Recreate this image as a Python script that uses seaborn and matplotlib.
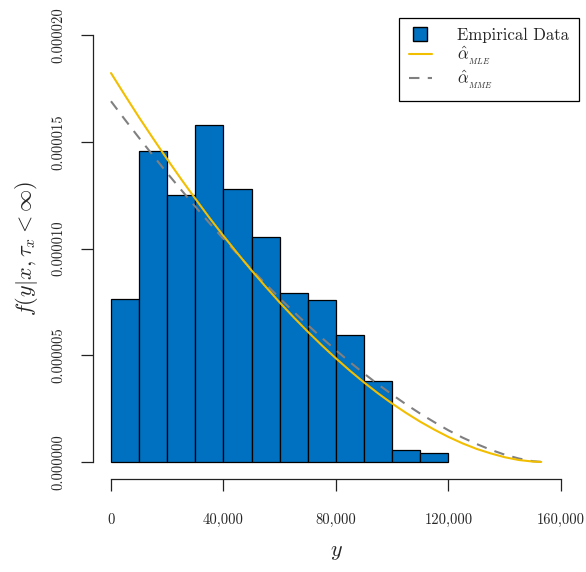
import numpy as np
import pandas as pd
import matplotlib
matplotlib.use("Agg")
import matplotlib.pyplot as plt
from matplotlib.lines import Line2D
import seaborn as sns

# Histogram bins (width 10,000) and their density heights
bin_edges = [0, 10000, 20000, 30000, 40000, 50000, 60000, 70000,
             80000, 90000, 100000, 110000, 120000]
density = [7.63e-6, 14.57e-6, 12.51e-6, 15.78e-6, 12.79e-6, 10.55e-6,
           7.90e-6, 7.57e-6, 5.95e-6, 3.78e-6, 0.54e-6, 0.40e-6]

# Fitted densities (values in units of 1e-6)
curve_y = [0, 5000, 10000, 15000, 20000, 25000, 30000, 35000, 40000,
           45000, 50000, 55000, 60000, 65000, 70000, 75000, 80000, 85000,
           90000, 95000, 100000, 105000, 110000, 115000, 120000, 125000,
           130000, 135000, 140000, 145000, 150000, 153000]
mle_f = [18.22, 17.17, 16.14, 15.15, 14.18, 13.24, 12.33, 11.44, 10.59,
         9.77, 8.97, 8.21, 7.47, 6.77, 6.10, 5.46, 4.85, 4.27, 3.72, 3.21,
         2.73, 2.29, 1.88, 1.51, 1.17, 0.87, 0.61, 0.40, 0.22, 0.09, 0.016, 0.0]
mme_f = [16.90, 16.03, 15.18, 14.35, 13.53, 12.74, 11.96, 11.19, 10.45,
         9.73, 9.02, 8.34, 7.67, 7.03, 6.41, 5.81, 5.23, 4.67, 4.14, 3.63,
         3.15, 2.69, 2.26, 1.86, 1.48, 1.14, 0.84, 0.57, 0.34, 0.16, 0.033, 0.0]

x_ticks = [0, 40000, 80000, 120000, 160000]
x_tick_labels = ["0", "40,000", "80,000", "120,000", "160,000"]
y_ticks = [0.0, 0.000005, 0.00001, 0.000015, 0.00002]
y_tick_labels = ["0.000000", "0.000005", "0.000010", "0.000015", "0.000020"]

sns.set_style("white")
plt.rcParams["font.family"] = ["cmr10", "DejaVu Serif"]
plt.rcParams["mathtext.fontset"] = "cm"
plt.rcParams["axes.formatter.use_mathtext"] = True

BAR_BLUE = "#0070C0"
MLE_YELLOW = "#F2BE00"
MME_GRAY = "#808080"

fig = plt.figure(figsize=(5.86, 5.72), dpi=100)
ax = fig.add_axes([0.1587, 0.1626, 0.8293, 0.8059])

mids = [(a + b) / 2 for a, b in zip(bin_edges[:-1], bin_edges[1:])]
hist_df = pd.DataFrame({"y": mids, "w": density})
sns.histplot(data=hist_df, x="y", weights="w", bins=bin_edges, stat="count",
             color=BAR_BLUE, edgecolor="black", linewidth=0.9, alpha=1.0, ax=ax)

curves = pd.DataFrame({"y": curve_y,
                       "mle": np.array(mle_f) * 1e-6,
                       "mme": np.array(mme_f) * 1e-6})
sns.lineplot(data=curves, x="y", y="mme", color=MME_GRAY, linewidth=1.5,
             ax=ax, linestyle=(0, (5, 4)))
sns.lineplot(data=curves, x="y", y="mle", color=MLE_YELLOW, linewidth=1.5, ax=ax)

ax.set_xlim(-6400, 166400)
ax.set_ylim(-0.0000008, 0.0000208)

for side in ("top", "right"):
    ax.spines[side].set_visible(False)
ax.spines["left"].set_bounds(0, 0.00002)
ax.spines["bottom"].set_bounds(0, 160000)
for side in ("left", "bottom"):
    ax.spines[side].set_color("#222222")
    ax.spines[side].set_linewidth(0.9)

ax.set_xticks(x_ticks)
ax.set_xticklabels(x_tick_labels, fontsize=10.5)
ax.set_yticks(y_ticks)
ax.set_yticklabels(y_tick_labels, fontsize=10.5, rotation=90, va="center")
ax.tick_params(axis="both", direction="out", length=8.5, width=0.9,
               color="#222222", bottom=True, left=True)
ax.tick_params(axis="x", pad=16)
ax.tick_params(axis="y", pad=11.5)

ax.set_xlabel(r"$y$", fontsize=16, labelpad=11)
ax.set_ylabel(r"$f(y|x,\tau_x<\infty)$", fontsize=16, labelpad=8)

handles = [
    Line2D([0], [0], linestyle="none", marker="s", markersize=9.5,
           markerfacecolor=BAR_BLUE, markeredgecolor="black",
           markeredgewidth=1.0),
    Line2D([0], [0], color=MLE_YELLOW, linewidth=1.5),
    Line2D([0], [0], color=MME_GRAY, linewidth=1.5, linestyle=(0, (5, 4))),
]
labels = ["Empirical Data",
          r"$\hat{\alpha}_{_{MLE}}$",
          r"$\hat{\alpha}_{_{MME}}$"]
leg = ax.legend(handles, labels, loc="upper right", bbox_to_anchor=(1.0, 1.0),
                fontsize=12, frameon=True, fancybox=False, edgecolor="black",
                framealpha=1.0, borderpad=0.6, handlelength=1.4,
                handleheight=0.8, labelspacing=0.06, handletextpad=1.5,
                borderaxespad=0.0)
leg.get_frame().set_linewidth(0.9)

fig.savefig("out.png", dpi=100)
